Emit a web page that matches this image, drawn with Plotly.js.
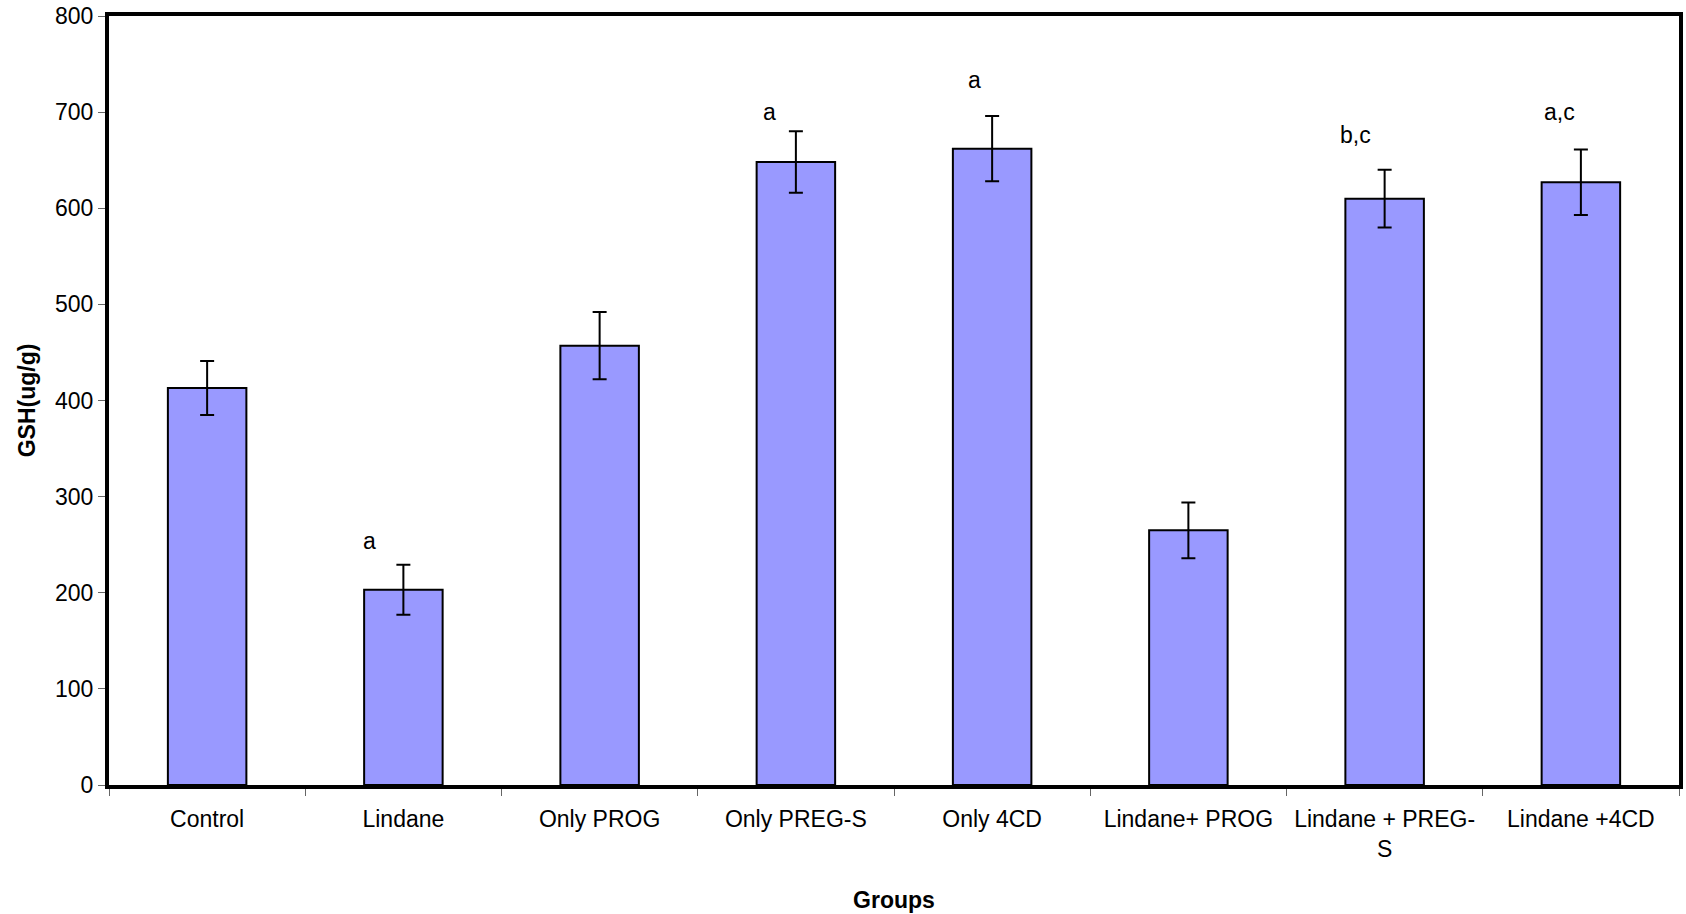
<!DOCTYPE html>
<html>
<head>
<meta charset="utf-8">
<script src="https://cdn.plot.ly/plotly-3.0.1.min.js"></script>
<style>html,body{margin:0;padding:0;background:#fff;}#chart{width:1686px;height:914px;}</style>
</head>
<body>
<div id="chart"></div>
<script>
const categories = ["Control", "Lindane", "Only PROG", "Only PREG-S", "Only 4CD", "Lindane+ PROG", "Lindane + PREG-S", "Lindane +4CD"];
const tickLabels = ["Control", "Lindane", "Only PROG", "Only PREG-S", "Only 4CD", "Lindane+ PROG", "Lindane + PREG-<br>S", "Lindane +4CD"];
const gshValues = [413, 203, 457, 648, 662, 265, 610, 627];
const gshErrors = [28, 26, 35, 32, 34, 29, 30, 34];
const letterCategories = ["Lindane", "Only PREG-S", "Only 4CD", "Lindane + PREG-S", "Lindane +4CD"];
const letterTexts = ["a", "a", "a", "b,c", "a,c"];
const letterY = [254, 700, 733, 676, 700];
const letterShift = [-34, -26, -18, -29, -21];

const FONT = "Liberation Sans, Arial, sans-serif";

const trace = {
  type: "bar",
  x: categories,
  y: gshValues,
  marker: { color: "#9999ff", line: { color: "#000000", width: 2 } },
  error_y: { type: "data", array: gshErrors, visible: true, color: "#000000", thickness: 2, width: 7 },
  hoverinfo: "x+y"
};

const annotations = letterCategories.map((c, i) => ({
  x: c, y: letterY[i], xref: "x", yref: "y",
  text: letterTexts[i], showarrow: false, xshift: letterShift[i],
  font: { family: FONT, size: 23, color: "#000" }
}));

const layout = {
  width: 1686, height: 914,
  margin: { l: 109, r: 7, t: 16, b: 129 },
  paper_bgcolor: "#ffffff", plot_bgcolor: "#ffffff",
  bargap: 0.6,
  showlegend: false,
  font: { family: FONT, size: 23, color: "#000" },
  xaxis: {
    type: "category",
    tickvals: categories, ticktext: tickLabels,
    tickson: "boundaries",
    ticks: "outside", ticklen: 7, tickwidth: 1, tickcolor: "#666",
    ticklabelstandoff: 10,
    showline: true, linecolor: "#000", linewidth: 4, mirror: true,
    showgrid: false, zeroline: false,
    tickfont: { family: FONT, size: 23, color: "#000" },
    title: { text: "Groups", font: { family: FONT, size: 23, color: "#000", weight: "bold" }, standoff: 32 },
    automargin: false
  },
  yaxis: {
    range: [0, 800], dtick: 100,
    ticks: "outside", ticklen: 7, tickwidth: 1, tickcolor: "#666",
    showline: true, linecolor: "#000", linewidth: 4, mirror: true,
    showgrid: false, zeroline: false,
    tickfont: { family: FONT, size: 23, color: "#000" },
    title: { text: "GSH(ug/g)", font: { family: FONT, size: 23, color: "#000", weight: "bold" }, standoff: 14 },
    automargin: false
  },
  annotations: annotations
};

Plotly.newPlot("chart", [trace], layout, { displayModeBar: false, staticPlot: true });
</script>
</body>
</html>
